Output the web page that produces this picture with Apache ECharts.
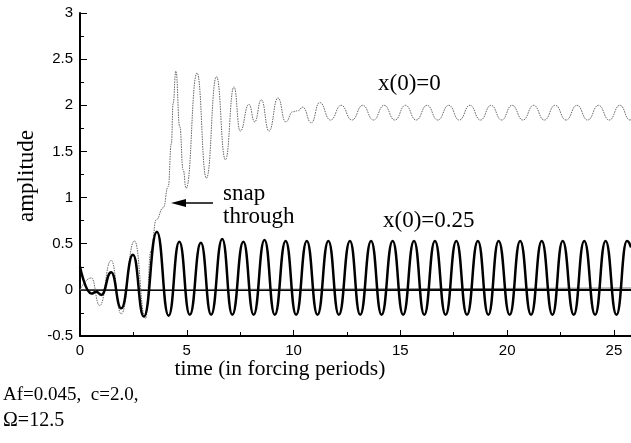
<!DOCTYPE html>
<html>
<head>
<meta charset="utf-8">
<script src="https://cdn.jsdelivr.net/npm/echarts@6/dist/echarts.min.js"></script>
<style>
html,body{margin:0;padding:0;background:#fff;}
#c{width:631px;height:443px;}
</style>
</head>
<body>
<div id="c"></div>
<script>
// x(0)=0.25 response (thick black)
var blackT = [0, 0.53, 0.76, 1.0, 1.46, 1.93, 2.48, 2.99, 3.6, 4.15, 4.65, 5.14, 5.66, 6.14, 6.66, 7.13, 7.65, 8.13, 8.64, 9.12, 9.63,
  10.12, 10.62, 11.12, 11.63, 12.12, 12.64, 13.12, 13.63, 14.12, 14.64, 15.13, 15.64, 16.12, 16.62, 17.12, 17.62, 18.12, 18.63,
  19.12, 19.6, 20.12, 20.61, 21.12, 21.62, 22.12, 22.6, 23.12, 23.61, 24.12, 24.61, 25.12, 25.61, 25.8];
var blackV = [0.25, -0.04, -0.02, -0.055, 0.19, -0.2, 0.38, -0.29, 0.63, -0.28, 0.52, -0.27, 0.51, -0.27, 0.55, -0.27, 0.52, -0.27, 0.54, -0.27, 0.53,
  -0.27, 0.53, -0.27, 0.53, -0.27, 0.53, -0.27, 0.53, -0.27, 0.53, -0.27, 0.53, -0.27, 0.53, -0.27, 0.53, -0.27, 0.53,
  -0.27, 0.53, -0.27, 0.53, -0.27, 0.53, -0.27, 0.53, -0.27, 0.53, -0.27, 0.53, -0.27, 0.53, 0.46];

// x(0)=0 response (thin grey, snaps through)
var grayT = [0, 0.53, 0.92, 1.46, 1.93, 2.55, 3.07, 3.33, 3.57, 3.9, 4.13, 4.28, 4.36, 4.49, 4.67, 4.83, 4.97, 5.48, 5.92, 6.39, 6.81,
  7.21, 7.5, 7.91, 8.18, 8.49, 8.85, 9.27, 9.63, 9.97, 10.2, 10.43, 10.83, 11.22, 11.73, 12.23, 12.73, 13.24, 13.74, 14.24, 14.74,
  15.24, 15.74, 16.25, 16.75, 17.27, 17.76, 18.26, 18.75, 19.25, 19.74, 20.23, 20.74, 21.24, 21.74, 22.25, 22.76, 23.27, 23.77,
  24.28, 24.78, 25.28, 25.75, 25.8];
var grayV = [0, 0.13, -0.17, 0.32, -0.26, 0.53, -0.31, 0.43, 0.76, 0.89, 1.12, 1.59, 2.02, 2.37, 1.77, 1.30, 1.10, 2.35, 1.21, 2.31, 1.41,
  2.20, 1.72, 2.01, 1.82, 2.06, 1.72, 2.08, 1.82, 1.93, 1.94, 1.98, 1.81, 2.03, 1.84, 2.0, 1.84, 2.0, 1.84, 2.0, 1.84,
  2.0, 1.84, 2.0, 1.84, 2.0, 1.84, 2.0, 1.84, 2.0, 1.84, 2.0, 1.84, 2.0, 1.84, 2.0, 1.84, 2.0, 1.84,
  2.0, 1.84, 2.0, 1.84, 1.845];

// zero reference line
var zeroT = [0, 25.8];
var zeroV = [0, 0.02];

var xTicks = [0, 5, 10, 15, 20, 25];
var yTicks = [-0.5, 0, 0.5, 1, 1.5, 2, 2.5, 3];

function zip(a, b) { return a.map(function (v, i) { return [v, b[i]]; }); }

var serif = 'Liberation Serif, Times New Roman, serif';
var sans = 'Liberation Sans, Arial, sans-serif';

var chart = echarts.init(document.getElementById('c'), null, {renderer: 'canvas'});
chart.setOption({
  backgroundColor: '#fff',
  animation: false,
  grid: {left: 80, top: 13, right: 0, bottom: 107},
  xAxis: [{
    type: 'value', min: 0, max: 25.8, interval: 5,
    axisLine: {show: true, onZero: false, lineStyle: {color: '#000', width: 2}},
    axisTick: {show: true, inside: true, length: 6, lineStyle: {color: '#000', width: 1}},
    minorTick: {show: true, splitNumber: 2, length: 4, lineStyle: {color: '#000', width: 1}},
    splitLine: {show: false},
    axisLabel: {
      color: '#000', fontFamily: sans, fontSize: 15, margin: 7, showMaxLabel: false,
      formatter: function (v) { return xTicks.indexOf(v) >= 0 ? String(v) : ''; }
    }
  }, {
    type: 'value', position: 'top', min: 0, max: 25.8,
    axisLine: {show: true, lineStyle: {color: '#000', width: 2}},
    axisTick: {show: false}, axisLabel: {show: false}, splitLine: {show: false}
  }],
  yAxis: {
    type: 'value', min: -0.5, max: 3, interval: 0.5,
    axisLine: {show: true, onZero: false, lineStyle: {color: '#000', width: 2}},
    axisTick: {show: true, inside: true, length: 7, lineStyle: {color: '#000', width: 1}},
    minorTick: {show: true, splitNumber: 2, length: 4, lineStyle: {color: '#000', width: 1}},
    splitLine: {show: false},
    axisLabel: {
      color: '#000', fontFamily: sans, fontSize: 15, margin: 7,
      formatter: function (v) { return yTicks.indexOf(v) >= 0 ? String(v) : ''; }
    }
  },
  series: [{
    name: 'zero', type: 'line', data: zip(zeroT, zeroV), showSymbol: false,
    lineStyle: {color: '#777', width: 1}, z: 1
  }, {
    name: 'x(0)=0', type: 'line', data: zip(grayT, grayV), showSymbol: false,
    smooth: 0.5, smoothMonotone: 'x',
    lineStyle: {color: '#666', width: 1, type: [1.5, 1]}, z: 2
  }, {
    name: 'x(0)=0.25', type: 'line', data: zip(blackT, blackV), showSymbol: false,
    smooth: 0.5, smoothMonotone: 'x',
    lineStyle: {color: '#000', width: 2.5}, z: 3
  }],
  graphic: [
    {type: 'text', x: 27, y: 176, rotation: Math.PI / 2, style: {text: 'amplitude', font: '23px ' + serif, fill: '#000', align: 'center', verticalAlign: 'middle'}},
    {type: 'text', x: 280, y: 369, style: {text: 'time (in forcing periods)', font: '21.5px ' + serif, fill: '#000', align: 'center', verticalAlign: 'middle'}},
    {type: 'text', x: 378, y: 84, style: {text: 'x(0)=0', font: '23px ' + serif, fill: '#000', align: 'left', verticalAlign: 'middle'}},
    {type: 'text', x: 383, y: 221, style: {text: 'x(0)=0.25', font: '23px ' + serif, fill: '#000', align: 'left', verticalAlign: 'middle'}},
    {type: 'text', x: 223, y: 194, style: {text: 'snap', font: '23px ' + serif, fill: '#000', align: 'left', verticalAlign: 'middle'}},
    {type: 'text', x: 223, y: 217, style: {text: 'through', font: '23px ' + serif, fill: '#000', align: 'left', verticalAlign: 'middle'}},
    {type: 'text', x: 3, y: 395, style: {text: 'Af=0.045,  c=2.0,', font: '19px ' + serif, fill: '#000', align: 'left', verticalAlign: 'middle'}},
    {type: 'text', x: 3, y: 421, style: {text: 'Ω=12.5', font: '20px ' + serif, fill: '#000', align: 'left', verticalAlign: 'middle'}},
    {type: 'line', shape: {x1: 213, y1: 203, x2: 183, y2: 203}, style: {stroke: '#000', lineWidth: 1.5}},
    {type: 'polygon', shape: {points: [[171, 203], [186, 199], [186, 207]]}, style: {fill: '#000'}}
  ]
});
</script>
</body>
</html>
